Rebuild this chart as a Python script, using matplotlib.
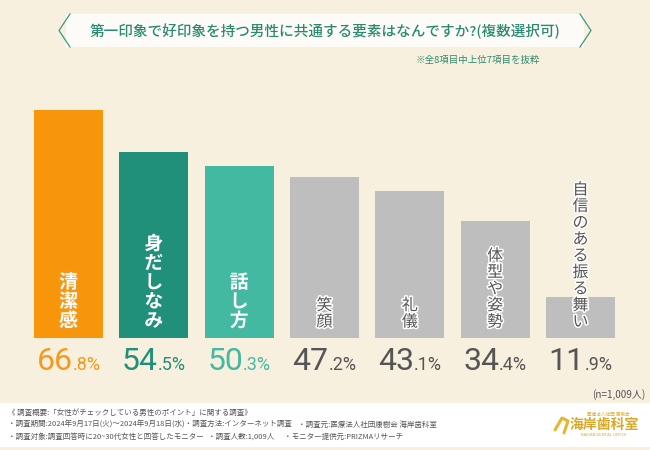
import matplotlib
matplotlib.use('Agg')
import matplotlib.pyplot as plt
import matplotlib.patheffects as pe
from matplotlib.patches import Rectangle, Polygon

plt.rcParams['font.family'] = ['Noto Sans CJK JP', 'DejaVu Sans']

# --- data ---
labels = ['清潔感', '身だしなみ', '話し方', '笑顔', '礼儀', '体型や姿勢', '自信のある振る舞い']
values = [66.8, 54.5, 50.3, 47.2, 43.1, 34.4, 11.9]
bar_colors = ['#f7960b', '#21907a', '#44b9a2', '#bebebe', '#bebebe', '#bebebe', '#bebebe']
pct_colors = ['#f39a1e', '#21907a', '#44b9a2', '#555555', '#555555', '#555555', '#555555']

title = '第一印象で好印象を持つ男性に共通する要素はなんですか?(複数選択可)'
note = '※全8項目中上位7項目を抜粋'
n_note = '(n=1,009人)'
footer = [
    '《 調査概要:「女性がチェックしている男性のポイント」に関する調査》',
    '・調査期間:2024年9月17日(火)～2024年9月18日(水)・調査方法:インターネット調査',
    '・調査対象:調査回答時に20~30代女性と回答したモニター',
]
footer_extra = [
    (298, 425, '・調査元:医療法人社団康樹会 海岸歯科室'),
    (208, 437, '・調査人数:1,009人'),
    (284, 437, '・モニター提供元:PRIZMAリサーチ'),
]

W, H = 650, 450
fig = plt.figure(figsize=(6.5, 4.5), dpi=100)
fig.patch.set_facecolor('#f8f0df')

# background / decoration axes in pixel coordinates
bg = fig.add_axes([0, 0, 1, 1])
bg.set_xlim(0, W)
bg.set_ylim(H, 0)
bg.axis('off')

# title banner
banner = Polygon([(66, 14), (584, 14), (584, 47), (66, 47)], closed=True,
                 facecolor='white', alpha=0.8, edgecolor='none')
bg.add_patch(banner)
bg.plot([70, 59, 70], [14, 30.5, 47], color='#3a9a82', lw=0.9)
bg.plot([580, 591, 580], [14, 30.5, 47], color='#3a9a82', lw=0.9)
bg.text(325, 31, title, ha='center', va='center', fontsize=10.5,
        color='#2a8a70', fontweight='medium')
bg.text(540, 60, note, ha='right', va='center', fontsize=6.8, color='#2a8a70')
bg.text(645, 395, n_note, ha='right', va='center', fontsize=7.2, color='#555555')

# footer band
bg.add_patch(Rectangle((0, 403), W, 44, facecolor='white', edgecolor='none'))
for i, line in enumerate(footer):
    bg.text(8, 413 + 12 * i, line, ha='left', va='center', fontsize=5.4, color='#555555')
for x, y, s in footer_extra:
    bg.text(x, y, s, ha='left', va='center', fontsize=5.4, color='#555555')

# logo
bg.text(604, 425, '海岸歯科室', ha='center', va='center', fontsize=10,
        color='#d8a928', fontweight='bold', style='italic')
bg.text(608, 414, '医療法人社団 康樹会', ha='center', va='center', fontsize=3.3, color='#d8a928')
bg.text(604, 435, 'KAIGAN DENTAL OFFICE', ha='center', va='center', fontsize=3.0, color='#d8a928')
bg.plot([555, 562, 568, 564], [430, 418, 421, 433], color='#e5b630', lw=2.2,
        solid_capstyle='round')

# bar axes: baseline at y=338px, 3.413 px per percent
px_per = 3.413
top_px = 100
ax = fig.add_axes([25.85 / W, (H - 338) / H, (623.2 - 25.85) / W, (338 - top_px) / H])
ax.set_xlim(-0.5, len(labels) - 0.5)
ax.set_ylim(0, (338 - top_px) / px_per)
ax.axis('off')
ax.patch.set_alpha(0)

xs = list(range(len(labels)))
ax.bar(xs, values, width=0.81, color=bar_colors, edgecolor='none')

# overlay axes for labels on top of bars
ov = fig.add_axes([0, 0, 1, 1])
ov.set_xlim(0, W)
ov.set_ylim(H, 0)
ov.axis('off')
ov.patch.set_alpha(0)

# vertical labels
for i, lab in enumerate(labels):
    colored = i < 3
    step = 19.2 if colored else 16.5
    fs = 13.5 if colored else 11.5
    y_bot = 321 if colored else 322
    n = len(lab)
    cx = 68.5 + i * 85.33
    for k, ch in enumerate(lab):
        ypx = y_bot - (n - 1 - k) * step
        if colored:
            ov.text(cx, ypx, ch, ha='center', va='center', fontsize=fs,
                    color='white', fontweight='bold',
                    path_effects=[pe.withStroke(linewidth=2.2, foreground=pct_colors[i])])
        else:
            ov.text(cx, ypx, ch, ha='center', va='center', fontsize=fs,
                    color='#555555',
                    path_effects=[pe.withStroke(linewidth=2.2, foreground='white')])

# percentage labels: big integer part + smaller decimals
fig.canvas.draw()
renderer = fig.canvas.get_renderer()
for i, v in enumerate(values):
    big, small = f'{v:.1f}'.split('.')
    small = '.' + small + '%'
    cx = 68.5 + i * 85.33
    t1 = ov.text(0, 370, big, ha='left', va='baseline', fontsize=23,
                 color=pct_colors[i], family='Roboto')
    t2 = ov.text(0, 370, small, ha='left', va='baseline', fontsize=13,
                 color=pct_colors[i], family='Roboto')
    w1 = t1.get_window_extent(renderer).width
    w2 = t2.get_window_extent(renderer).width
    x0 = cx - (w1 + w2) / 2
    t1.set_x(x0)
    t2.set_x(x0 + w1)

fig.savefig('out.png', dpi=100, facecolor=fig.get_facecolor())
